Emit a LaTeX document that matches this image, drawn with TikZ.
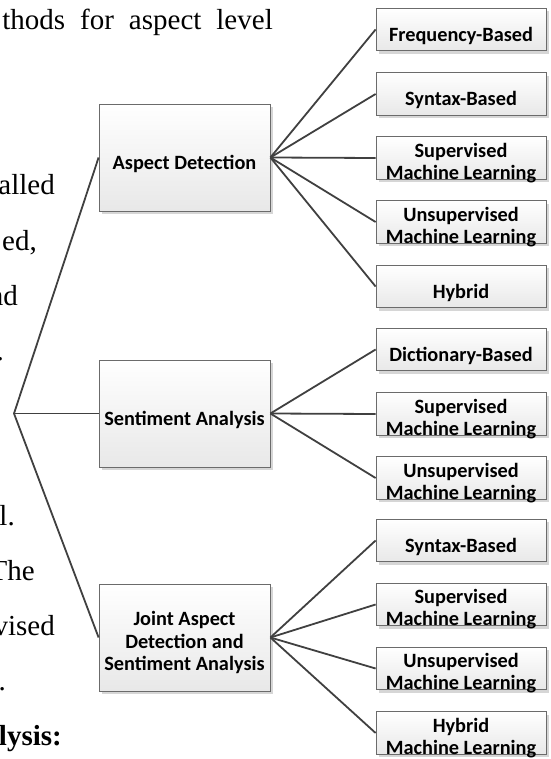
\documentclass[tikz,border=0pt]{standalone}
\usepackage{fontspec}
\setmainfont{Liberation Serif}
\newfontfamily\boxfont{Carlito}
\usetikzlibrary{shadows}

\begin{document}
\begin{tikzpicture}[x=1pt,y=-1pt,
  box/.style={draw=black!58, line width=0.8pt, top color=white, bottom color=black!9,
    general shadow={fill=black!16, shadow xshift=3pt, shadow yshift=-3pt}, inner sep=0pt},
  midbox/.style={box, minimum width=171pt, minimum height=107pt},
  leafbox/.style={box, minimum width=170pt, minimum height=42.5pt},
  lbl/.style={font=\boxfont\bfseries\fontsize{20.3}{22}\selectfont, align=center, inner sep=0pt, text=black, yshift=-6pt},
  lbltwo/.style={lbl, yshift=1pt},
  lblthree/.style={lbl, font=\boxfont\bfseries\fontsize{20.3}{22.5}\selectfont, yshift=1pt},
  conn/.style={draw=black!75, line width=1.8pt},
  bodytext/.style={font=\fontsize{29}{33}\selectfont, inner sep=0pt, anchor=base east}
]
\useasboundingbox (0,0) rectangle (550,759);
\clip (0,0) rectangle (550,759);

% surrounding paragraph fragments (justified lines)
\node[bodytext] (p0) at (273,30) {\spaceskip=15pt\relax thods for aspect level};
\node[bodytext] (p3) at (55,195) {alled};
\node[bodytext] (p4) at (37,250) {ed,};
\node[bodytext] (p5) at (18,305) {nd};
\node[bodytext] (p6) at (4,360) {.};
\node[bodytext] (p9) at (15,525) {l.};
\node[bodytext] (p10) at (35,580) {The};
\node[bodytext] (p11) at (55,635) {vised};
\node[bodytext] (p12) at (6,690) {.};
\node[bodytext, font=\fontsize{29}{33}\selectfont\bfseries] (p13) at (62,745) {lysis:};

% root of the tree
\coordinate (root) at (14,413.5);

% second level
\node[midbox] (m1) at (184.5,157.5) {};
\node[midbox] (m2) at (184.5,413.5) {};
\node[midbox] (m3) at (184.5,637.5) {};

% leaves of Aspect Detection
\node[leafbox] (a1) at (461,29.5) {};
\node[leafbox] (a2) at (461,94) {};
\node[leafbox] (a3) at (461,158) {};
\node[leafbox] (a4) at (461,222) {};
\node[leafbox] (a5) at (461,286.5) {};
% leaves of Sentiment Analysis
\node[leafbox] (s1) at (461,349.5) {};
\node[leafbox] (s2) at (461,414) {};
\node[leafbox] (s3) at (461,478) {};
% leaves of the joint approach
\node[leafbox] (j1) at (461,540.5) {};
\node[leafbox] (j2) at (461,604.5) {};
\node[leafbox] (j3) at (461,668.5) {};
\node[leafbox] (j4) at (461,733) {};

% connectors
\draw[conn] (m1.west) -- (root) -- (m3.west);
\draw[conn] (root) -- (m2.west);
\foreach \l in {a1,a2,a3,a4,a5} \draw[conn] (m1.east) -- (\l.west);
\foreach \l in {s1,s2,s3} \draw[conn] (m2.east) -- (\l.west);
\foreach \l in {j1,j2,j3,j4} \draw[conn] (m3.east) -- (\l.west);

% labels
\node[lbl] (m1t) at (m1) {Aspect Detection};
\node[lbl] (m2t) at (m2) {Sentiment Analysis};
\node[lblthree] (m3t) at (m3) {Joint Aspect\\Detection and\\Sentiment Analysis};

\node[lbl] (a1t) at (a1) {Frequency-Based};
\node[lbl] (a2t) at (a2) {Syntax-Based};
\node[lbltwo] (a3t) at (a3) {Supervised\\Machine Learning};
\node[lbltwo] (a4t) at (a4) {Unsupervised\\Machine Learning};
\node[lbl] (a5t) at (a5) {Hybrid};

\node[lbl] (s1t) at (s1) {Dictionary-Based};
\node[lbltwo] (s2t) at (s2) {Supervised\\Machine Learning};
\node[lbltwo] (s3t) at (s3) {Unsupervised\\Machine Learning};

\node[lbl] (j1t) at (j1) {Syntax-Based};
\node[lbltwo] (j2t) at (j2) {Supervised\\Machine Learning};
\node[lbltwo] (j3t) at (j3) {Unsupervised\\Machine Learning};
\node[lbltwo] (j4t) at (j4) {Hybrid\\Machine Learning};
\end{tikzpicture}
\end{document}
